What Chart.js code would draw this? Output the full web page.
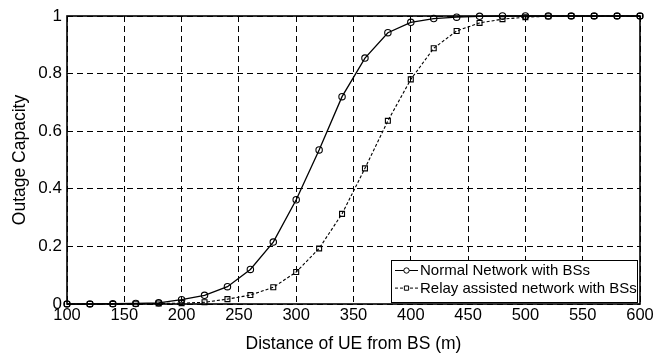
<!DOCTYPE html>
<html>
<head>
<meta charset="utf-8">
<script src="https://cdn.jsdelivr.net/npm/chart.js@4/dist/chart.umd.min.js"></script>
<style>
  html, body { margin: 0; padding: 0; background: #fff; }
  #wrap { width: 667px; height: 357px; }
</style>
</head>
<body>
<div id="wrap"><canvas id="c" width="667" height="357"></canvas></div>
<script>
// Distance of UE from BS (m)
const distance = [100, 120, 140, 160, 180, 200, 220, 240, 260, 280, 300, 320, 340,
                  360, 380, 400, 420, 440, 460, 480, 500, 520, 540, 560, 580, 600];
// Outage capacity, normal network with BSs
const normalNetwork = [0, 0, 0.001, 0.002, 0.004, 0.015, 0.03, 0.06, 0.12, 0.215, 0.362, 0.535, 0.72,
                       0.854, 0.942, 0.978, 0.991, 0.996, 0.999, 1, 1, 1, 1, 1, 1, 1];
// Outage capacity, relay assisted network with BSs
const relayNetwork = [0, 0, 0, 0.001, 0.002, 0.003, 0.006, 0.017, 0.031, 0.058, 0.111, 0.193, 0.313,
                      0.471, 0.636, 0.78, 0.888, 0.948, 0.976, 0.989, 0.996, 0.999, 1, 1, 1, 1];
const seriesNames = ['Normal Network with BSs', 'Relay assisted network with BSs'];
const xTicks = [100, 150, 200, 250, 300, 350, 400, 450, 500, 550, 600];
const yTicks = [0, 0.2, 0.4, 0.6, 0.8, 1];

const FONT = '"Liberation Sans", Arial, sans-serif';
const toPoints = ys => distance.map((x, i) => ({ x, y: ys[i] }));

// Frame around the plotting area
const boxPlugin = {
  id: 'axesBox',
  beforeDatasetsDraw(chart) {
    const { ctx, chartArea: a } = chart;
    ctx.save();
    ctx.strokeStyle = '#000';
    ctx.lineWidth = 1.6;
    ctx.setLineDash([]);
    ctx.strokeRect(a.left, a.top, a.right - a.left, a.bottom - a.top);
    ctx.restore();
  }
};

// Legend drawn inside the lower right corner of the plot
const insideLegend = {
  id: 'insideLegend',
  afterDraw(chart) {
    const { ctx, chartArea: a } = chart;
    const w = 246, h = 42;
    const x0 = a.right - 3 - w, y0 = a.bottom - 2 - h;
    ctx.save();
    ctx.fillStyle = '#fff';
    ctx.fillRect(x0, y0, w, h);
    ctx.strokeStyle = '#000';
    ctx.lineWidth = 1;
    ctx.strokeRect(Math.round(x0) + 0.5, Math.round(y0) + 0.5, w, h);
    ctx.font = '15px ' + FONT;
    ctx.textBaseline = 'middle';
    ctx.textAlign = 'left';
    chart.data.datasets.forEach((ds, i) => {
      const cy = y0 + 10.5 + i * 17.6;
      const lx0 = x0 + 4, lx1 = x0 + 27, mx = (lx0 + lx1) / 2;
      ctx.strokeStyle = '#000';
      ctx.lineWidth = 1;
      ctx.setLineDash(ds.borderDash || []);
      ctx.beginPath();
      ctx.moveTo(lx0, cy);
      ctx.lineTo(lx1, cy);
      ctx.stroke();
      ctx.setLineDash([]);
      ctx.fillStyle = '#fff';
      Chart.helpers.drawPoint(ctx, {
        pointStyle: ds.pointStyle, radius: ds.pointRadius - 0.5, borderWidth: 1, rotation: 0
      }, mx, cy);
      ctx.fillStyle = '#000';
      ctx.fillText(ds.label, x0 + 29, cy + 0.5);
    });
    ctx.restore();
  }
};

new Chart(document.getElementById('c'), {
  type: 'line',
  data: {
    datasets: [
      {
        label: seriesNames[0],
        data: toPoints(normalNetwork),
        borderColor: '#000',
        borderWidth: 1.3,
        pointStyle: 'circle',
        pointRadius: 3.2,
        pointBorderWidth: 1.1,
        pointBorderColor: '#000',
        pointBackgroundColor: 'rgba(0,0,0,0)',
        tension: 0,
        fill: false,
        clip: false
      },
      {
        label: seriesNames[1],
        data: toPoints(relayNetwork),
        borderColor: '#000',
        borderWidth: 1.1,
        borderDash: [3, 2],
        pointStyle: 'rect',
        pointRadius: 3.5,
        pointBorderWidth: 1.1,
        pointBorderColor: '#000',
        pointBackgroundColor: 'rgba(0,0,0,0)',
        tension: 0,
        fill: false,
        clip: false
      }
    ]
  },
  options: {
    responsive: false,
    animation: false,
    devicePixelRatio: 1,
    layout: { padding: { top: 16, right: 27, left: 0, bottom: 0 } },
    plugins: { legend: { display: false }, tooltip: { enabled: false } },
    scales: {
      x: {
        type: 'linear',
        min: 100, max: 600,
        afterBuildTicks: s => { s.ticks = xTicks.map(v => ({ value: v })); },
        afterFit: s => { s.height = 53; },
        border: { display: false, dash: [6, 4] },
        grid: { color: '#000', lineWidth: 1, drawTicks: false },
        ticks: { color: '#000', padding: 2, font: { family: FONT, size: 16.5 }, maxRotation: 0 },
        title: {
          display: true, text: 'Distance of UE from BS (m)', color: '#000',
          font: { family: FONT, size: 17.5 }, padding: { top: 0, bottom: 2 }
        }
      },
      y: {
        min: 0, max: 1,
        afterBuildTicks: s => { s.ticks = yTicks.map(v => ({ value: v })); },
        afterFit: s => { s.width = 67; },
        border: { display: false, dash: [6, 4] },
        grid: { color: '#000', lineWidth: 1, drawTicks: false },
        ticks: {
          color: '#000', padding: 5, font: { family: FONT, size: 17 },
          callback: v => String(+v.toFixed(1))
        },
        title: {
          display: true, text: 'Outage Capacity', color: '#000',
          font: { family: FONT, size: 17.5 }, padding: { top: 10, bottom: 0 }
        }
      }
    }
  },
  plugins: [boxPlugin, insideLegend]
});
</script>
</body>
</html>
